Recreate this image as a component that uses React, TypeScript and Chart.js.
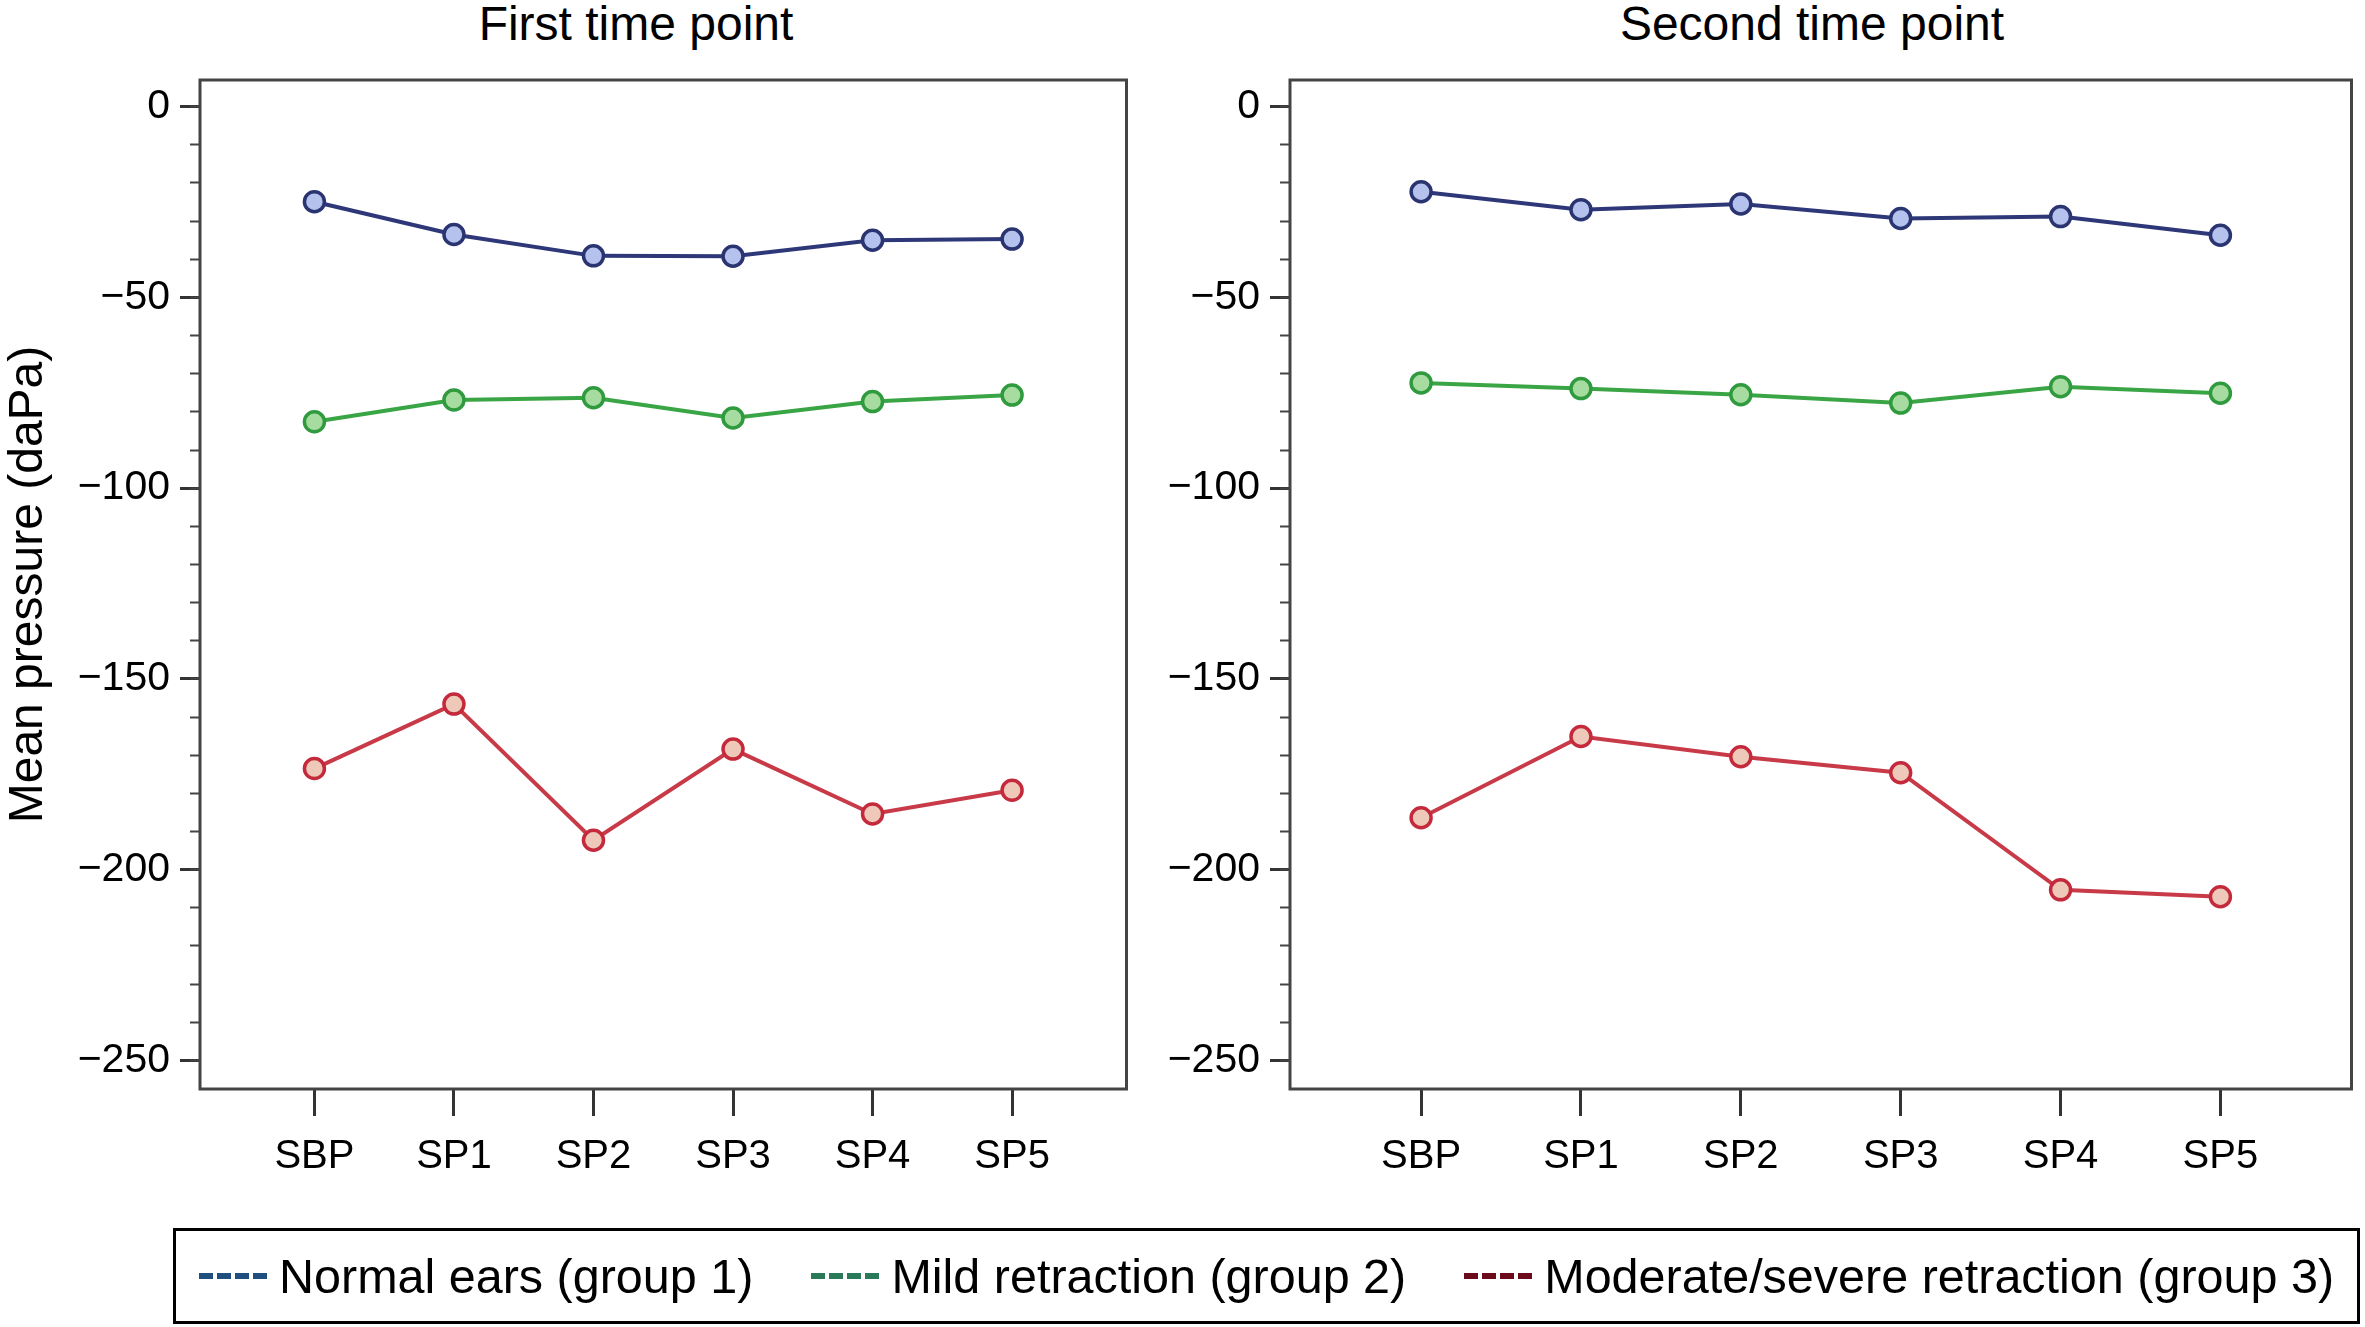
import React, { useEffect, useRef } from "react";
import { Chart, registerables } from "chart.js";

Chart.register(...registerables);

const categories = ["SBP", "SP1", "SP2", "SP3", "SP4", "SP5"];
const yTickValues = [0, -50, -100, -150, -200, -250];

const firstNormal = [-24.9, -33.5, -39.1, -39.2, -35.0, -34.7];
const firstMild = [-82.6, -76.9, -76.3, -81.6, -77.3, -75.6];
const firstSevere = [-173.5, -156.6, -192.3, -168.4, -185.4, -179.2];

const secondNormal = [-22.3, -27.0, -25.5, -29.3, -28.8, -33.7];
const secondMild = [-72.4, -73.9, -75.5, -77.7, -73.4, -75.1];
const secondSevere = [-186.4, -165.1, -170.4, -174.6, -205.3, -207.1];

const seriesNames = [
  "Normal ears (group 1)",
  "Mild retraction (group 2)",
  "Moderate/severe retraction (group 3)",
];
const lineColors = ["#2e3878", "#3aa545", "#c83a48"];
const pointFills = ["#b6c2ee", "#a6dca0", "#eec9ba"];
const pointBorders = ["#2a3470", "#2f9a3e", "#c42a3c"];
const legendColors = ["#1f4f7f", "#2a7a5a", "#6b0a1a"];

const FONT = "'Liberation Sans', Arial, Helvetica, sans-serif";

const framePlugin = {
  id: "frame",
  afterDraw(chart: any) {
    const { ctx, chartArea } = chart;
    ctx.save();
    ctx.strokeStyle = "#444";
    ctx.lineWidth = 3;
    ctx.strokeRect(
      chartArea.left,
      chartArea.top,
      chartArea.right - chartArea.left,
      chartArea.bottom - chartArea.top
    );
    ctx.restore();
  },
};

function fmt(v: number) {
  return v < 0 ? "\u2212" + Math.abs(v) : String(v);
}

function makeConfig(series: number[][], yWidth: number, showTitle: boolean, padRight: number) {
  return {
    type: "line",
    data: {
      datasets: series.map((vals, i) => ({
        label: seriesNames[i],
        data: vals.map((v, j) => ({ x: j, y: v })),
        borderColor: lineColors[i],
        borderWidth: 4,
        pointRadius: 10,
        pointBorderWidth: 3.5,
        pointBackgroundColor: pointFills[i],
        pointBorderColor: pointBorders[i],
        tension: 0,
        fill: false,
      })),
    },
    options: {
      animation: false,
      responsive: false,
      devicePixelRatio: 1,
      layout: { padding: { top: 80, right: padRight, bottom: 0, left: 0 } },
      plugins: {
        legend: { display: false },
        tooltip: { enabled: false },
        title: { display: false },
      },
      scales: {
        x: {
          type: "linear",
          min: -0.82,
          max: 5.82,
          border: { display: false },
          grid: {
            drawOnChartArea: false,
            drawTicks: true,
            tickLength: 27,
            tickWidth: 3,
            tickColor: "#333",
          },
          ticks: {
            stepSize: 1,
            includeBounds: false,
            autoSkip: false,
            maxRotation: 0,
            padding: 17,
            color: "#000",
            font: { family: FONT, size: 40 },
            callback: (v: number) => (categories[v] !== undefined ? categories[v] : ""),
          },
          afterFit: (s: any) => {
            s.height = 111;
          },
        },
        y: {
          type: "linear",
          position: "left",
          weight: 1,
          min: -257.5,
          max: 7,
          border: { display: false },
          grid: {
            drawOnChartArea: false,
            drawTicks: true,
            tickLength: 20,
            tickWidth: 3,
            tickColor: "#333",
          },
          ticks: {
            stepSize: 50,
            includeBounds: false,
            padding: 10,
            color: "#000",
            font: { family: FONT, size: 41 },
            callback: (v: number) => (yTickValues.includes(v) ? fmt(v) : ""),
          },
          title: {
            display: showTitle,
            text: "Mean pressure (daPa)",
            color: "#000",
            padding: 0,
            font: { family: FONT, size: 48 },
          },
          afterFit: (s: any) => {
            s.width = yWidth;
          },
        },
        yMinor: {
          type: "linear",
          position: "left",
          weight: 0,
          min: -257.5,
          max: 7,
          border: { display: false },
          grid: {
            drawOnChartArea: false,
            drawTicks: true,
            tickLength: 10,
            tickWidth: 2,
            tickColor: "#444",
          },
          ticks: {
            stepSize: 10,
            includeBounds: false,
            display: false,
          },
          afterFit: (s: any) => {
            s.width = 0;
          },
        },
      },
    },
    plugins: [framePlugin],
  } as any;
}

function Panel(props: {
  series: number[][];
  left: number;
  width: number;
  yWidth: number;
  showTitle: boolean;
  padRight: number;
}) {
  const ref = useRef<HTMLCanvasElement>(null);
  useEffect(() => {
    if (!ref.current) return;
    const chart = new Chart(
      ref.current,
      makeConfig(props.series, props.yWidth, props.showTitle, props.padRight)
    );
    return () => chart.destroy();
  }, []);
  return (
    <canvas
      ref={ref}
      width={props.width}
      height={1200}
      style={{
        position: "absolute",
        left: props.left,
        top: 0,
        width: props.width,
        height: 1200,
        display: "block",
      }}
    />
  );
}

function Dash(props: { color: string }) {
  return (
    <span
      style={{
        display: "inline-block",
        width: 68,
        height: 6,
        marginRight: 12,
        background: `repeating-linear-gradient(to right, ${props.color} 0px, ${props.color} 14px, transparent 14px, transparent 18px)`,
      }}
    />
  );
}

export default function App() {
  const titleStyle: React.CSSProperties = {
    position: "absolute",
    top: 0,
    width: 700,
    textAlign: "center",
    fontFamily: FONT,
    fontSize: 48,
    lineHeight: "48px",
    color: "#000",
    whiteSpace: "nowrap",
  };
  return (
    <div
      style={{
        position: "absolute",
        left: 0,
        top: 0,
        width: 2365,
        height: 1327,
        background: "#fff",
        overflow: "hidden",
      }}
    >
      <div style={{ ...titleStyle, left: 636 - 350 }}>First time point</div>
      <div style={{ ...titleStyle, left: 1812 - 350 }}>Second time point</div>
      <Panel
        series={[firstNormal, firstMild, firstSevere]}
        left={0}
        width={1140}
        yWidth={200}
        showTitle={true}
        padRight={12}
      />
      <Panel
        series={[secondNormal, secondMild, secondSevere]}
        left={1140}
        width={1225}
        yWidth={150}
        showTitle={false}
        padRight={10}
      />
      <div
        style={{
          position: "absolute",
          left: 173,
          top: 1228,
          width: 2187,
          height: 96,
          border: "3px solid #000",
          boxSizing: "border-box",
          display: "flex",
          alignItems: "center",
          paddingLeft: 23,
          fontFamily: FONT,
          fontSize: 48.5,
          color: "#000",
          whiteSpace: "nowrap",
        }}
      >
        {seriesNames.map((name, i) => (
          <span
            key={name}
            style={{
              display: "inline-flex",
              alignItems: "center",
              marginRight: i < seriesNames.length - 1 ? 58 : 0,
            }}
          >
            <Dash color={legendColors[i]} />
            <span>{name}</span>
          </span>
        ))}
      </div>
    </div>
  );
}
